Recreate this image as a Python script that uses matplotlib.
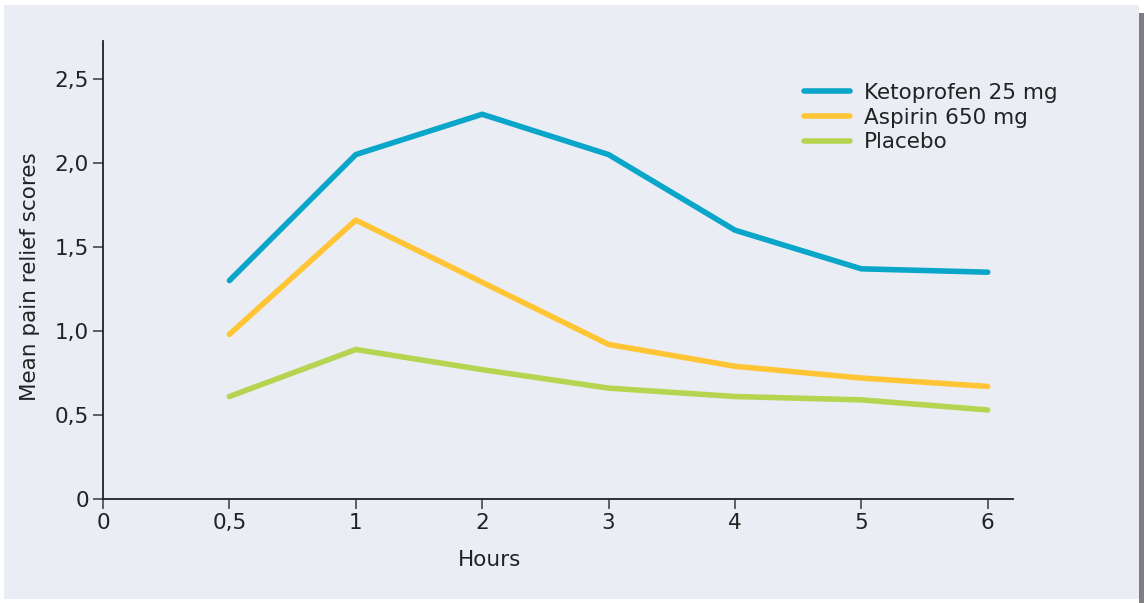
import matplotlib
matplotlib.use("Agg")
import matplotlib.pyplot as plt
from matplotlib.patches import Rectangle

plt.rcParams['font.family'] = ['DejaVu Sans']

hours_labels = ["0,5", "1", "2", "3", "4", "5", "6"]
ketoprofen = [1.30, 2.05, 2.29, 2.05, 1.60, 1.37, 1.35]
aspirin = [0.98, 1.66, 1.29, 0.92, 0.79, 0.72, 0.67]
placebo = [0.61, 0.89, 0.77, 0.66, 0.61, 0.59, 0.53]
series_names = ["Ketoprofen 25 mg", "Aspirin 650 mg", "Placebo"]
y_ticks = [0, 0.5, 1.0, 1.5, 2.0, 2.5]
y_tick_labels = ["0", "0,5", "1,0", "1,5", "2,0", "2,5"]

W, H = 1144, 603
FS = 15.5
fig = plt.figure(figsize=(W / 100, H / 100), dpi=100, facecolor="white")
bg = "#ebedf5"
fig.patches.append(Rectangle((4 / W, 1 - 599 / H), (1139 - 4) / W, (599 - 5) / H,
                             transform=fig.transFigure, facecolor=bg, edgecolor="none", zorder=-10))
fig.patches.append(Rectangle((1139 / W, 0), 5 / W, 1 - 13 / H,
                             transform=fig.transFigure, facecolor="#7d7d83", edgecolor="none", zorder=-10))

ax = fig.add_axes([103 / W, 1 - 499 / H, (1013 - 103) / W, (499 - 41) / H])
ax.set_facecolor("none")

x = list(range(1, len(hours_labels) + 1))
colors = ["#0aa6c9", "#ffc535", "#b5d551"]
for vals, name, c in zip([ketoprofen, aspirin, placebo], series_names, colors):
    ax.plot(x, vals, color=c, lw=4.0, solid_capstyle="round", solid_joinstyle="round", label=name)

ax.set_xlim(0, 7.2)
ax.set_ylim(0, 2.726)
ax.set_xticks([0] + x)
ax.set_xticklabels(["0"] + hours_labels)
ax.set_yticks(y_ticks)
ax.set_yticklabels(y_tick_labels)

for s in ["top", "right"]:
    ax.spines[s].set_visible(False)
for s in ["left", "bottom"]:
    ax.spines[s].set_color("#222222")
    ax.spines[s].set_linewidth(1.3)

ax.tick_params(axis="both", labelsize=FS, colors="#555555", labelcolor="#222222",
               length=7, width=1.3, pad=3)

ax.set_xlabel("Hours", fontsize=FS, color="#222222")
ax.xaxis.set_label_coords((490 - 103) / (1013 - 103), -(560 - 499) / (499 - 41), transform=ax.transAxes)
ax.xaxis.label.set_verticalalignment("center")
ax.set_ylabel("Mean pain relief scores", fontsize=FS, color="#222222")
ax.yaxis.set_label_coords(-(103 - 30) / (1013 - 103), (499 - 277) / (499 - 41))
ax.yaxis.label.set_verticalalignment("center")

leg = ax.legend(loc="upper left", bbox_to_anchor=((804 - 103) / (1013 - 103), (499 - 83) / (499 - 41)),
                frameon=False, fontsize=FS, handlelength=2.15, handletextpad=0.62,
                labelspacing=0.22, borderpad=0, borderaxespad=0)
for t in leg.get_texts():
    t.set_color("#222222")

fig.savefig("out.png", dpi=100, facecolor="white")
